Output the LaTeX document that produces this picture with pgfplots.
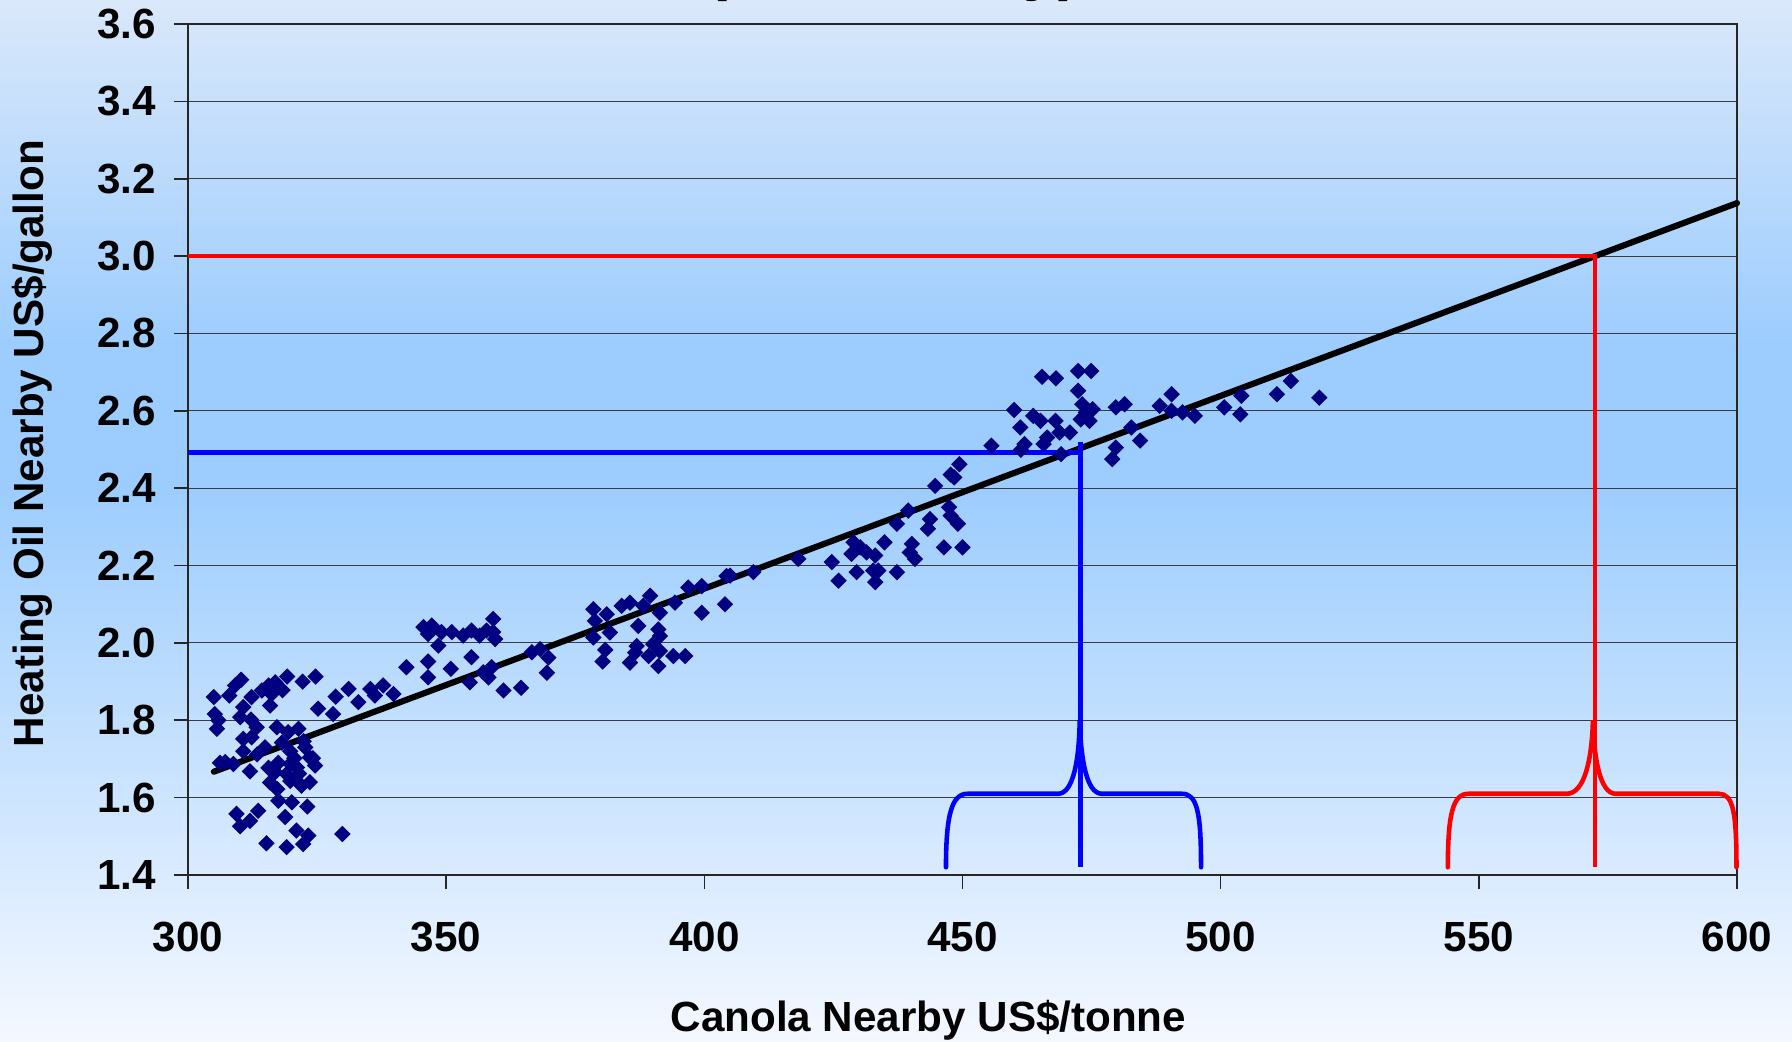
\documentclass[border=0pt]{standalone}
\usepackage{pgfplots}
\pgfplotsset{compat=1.18}
\usepackage{fontspec}
\setmainfont{Liberation Sans}
\definecolor{bgbot}{HTML}{F4F8FF}
\definecolor{bgmid}{HTML}{9DCDFE}
\definecolor{bgtop}{HTML}{DAE8FA}
\definecolor{navy}{HTML}{000080}
\definecolor{gridc}{HTML}{3C3C3C}
\begin{document}
\begin{tikzpicture}
\path[use as bounding box] (0,0) rectangle (179.2mm,104.1mm);
\shade[bottom color=bgbot, top color=bgmid] (0,0) rectangle (179.2mm,55mm);
\shade[bottom color=bgmid, top color=bgtop] (0,70mm) rectangle (179.2mm,104.1mm);
\fill[bgmid] (0,54.9mm) rectangle (179.2mm,70.1mm);
\node[anchor=base, font=\bfseries\fontsize{18}{20}\selectfont, inner sep=0pt] at (89.3mm,105.25mm) {\makebox[37.4mm][l]{(\hfill Weekly)}};
\begin{axis}[
  at={(18.8mm,16.6mm)}, anchor=south west, scale only axis,
  width=154.9mm, height=85.1mm,
  xmin=300, xmax=600, ymin=1.4, ymax=3.6,
  xtick={300,350,400,450,500,550,600},
  ytick={1.4,1.6,1.8,2.0,2.2,2.4,2.6,2.8,3.0,3.2,3.4,3.6},
  ymajorgrids, grid style={line width=0.3pt, color=gridc},
  axis line style={line width=0.5pt, color=black!85},
  tick pos=left, tick align=outside, major tick length=1.4mm,
  tick style={line width=0.45pt, color=black!85},
  /pgf/number format/assume math mode=true,
  tick label style={font=\bfseries\fontsize{12}{14}\selectfont},
  yticklabel style={xshift=-0.57mm, /pgf/number format/.cd, fixed, fixed zerofill, precision=1},
  xticklabel style={yshift=-2.06mm, /pgf/number format/.cd, fixed, precision=0},
  label style={font=\bfseries\fontsize{12}{14}\selectfont},
  xlabel={Canola Nearby US\$/tonne},
  ylabel={Heating Oil Nearby US\$/gallon},
  xlabel style={at={(axis description cs:0.478,-0.1711)}, anchor=center},
  ylabel style={at={(axis description cs:-0.1007,0.507)}, anchor=center},
  clip=false,
]
\addplot[only marks, mark=square*, mark size=1.45pt, mark options={rotate=45, fill=navy, draw=navy}] table {
x y
310.3 1.905
309.1 1.890
308.0 1.864
305.0 1.860
305.2 1.816
305.9 1.800
305.6 1.778
310.1 1.808
310.7 1.834
312.3 1.860
314.3 1.877
315.6 1.890
316.9 1.898
316.2 1.868
315.9 1.838
319.2 1.913
322.2 1.900
324.7 1.913
325.2 1.830
328.6 1.861
328.1 1.816
313.3 1.782
310.7 1.752
312.3 1.756
310.7 1.720
306.2 1.690
308.8 1.687
312.0 1.668
314.9 1.730
317.2 1.782
319.4 1.769
321.4 1.778
322.7 1.730
324.6 1.683
323.6 1.704
319.8 1.720
315.6 1.677
316.9 1.666
317.5 1.690
319.8 1.687
321.1 1.678
319.1 1.661
315.9 1.639
319.8 1.643
322.0 1.631
323.6 1.640
317.5 1.592
320.1 1.588
323.1 1.577
309.4 1.558
313.6 1.566
312.0 1.540
310.1 1.526
318.8 1.550
321.0 1.515
323.3 1.502
322.3 1.480
315.2 1.482
319.1 1.472
329.9 1.506
307.2 1.692
313.4 1.712
318.2 1.742
320.6 1.702
321.5 1.662
317.3 1.622
322.4 1.746
312.2 1.802
318.3 1.878
324.2 1.702
331.1 1.881
333.0 1.847
335.3 1.881
336.2 1.864
337.8 1.890
339.8 1.868
342.3 1.937
346.5 1.952
346.5 1.911
345.6 2.041
347.2 2.045
346.5 2.023
349.1 2.028
351.1 2.028
348.5 1.993
353.3 2.019
354.9 2.032
356.5 2.019
357.8 2.032
359.1 2.062
359.1 2.028
359.5 2.010
350.9 1.933
354.9 1.963
354.6 1.898
357.2 1.924
358.8 1.937
358.2 1.911
361.1 1.877
364.5 1.884
366.6 1.976
368.2 1.984
369.8 1.962
369.5 1.923
378.5 2.087
378.8 2.057
381.1 2.074
381.7 2.027
378.5 2.014
380.8 1.982
380.3 1.952
384.0 2.096
385.6 2.104
389.5 2.122
388.2 2.096
391.4 2.078
387.2 2.044
391.1 2.035
391.4 2.018
386.9 1.992
386.6 1.975
390.1 1.997
391.4 1.979
389.2 1.966
385.6 1.949
391.1 1.940
394.0 1.966
396.3 1.966
394.3 2.104
396.9 2.143
399.5 2.147
399.5 2.078
404.0 2.100
404.3 2.173
405.0 2.174
409.5 2.183
418.2 2.217
424.7 2.209
426.0 2.161
428.9 2.260
428.5 2.230
430.2 2.247
431.4 2.234
433.1 2.226
429.5 2.183
432.7 2.187
433.7 2.187
433.1 2.157
437.3 2.183
434.9 2.260
437.3 2.308
439.5 2.342
440.2 2.256
439.8 2.234
440.8 2.217
443.7 2.320
443.3 2.295
446.4 2.247
450.0 2.247
447.4 2.351
447.7 2.329
449.1 2.308
444.7 2.406
447.7 2.435
448.4 2.428
449.4 2.462
455.6 2.510
460.0 2.602
461.2 2.557
465.4 2.688
468.1 2.684
463.7 2.587
465.1 2.574
468.0 2.574
468.8 2.544
470.8 2.544
466.4 2.531
465.7 2.514
462.0 2.514
461.3 2.499
469.1 2.488
472.4 2.703
474.9 2.703
472.4 2.652
473.2 2.617
475.2 2.604
473.9 2.596
472.9 2.578
474.6 2.574
479.7 2.609
481.4 2.617
482.7 2.557
484.4 2.523
479.7 2.505
479.0 2.475
488.2 2.613
490.5 2.643
490.5 2.600
492.6 2.596
495.0 2.587
500.7 2.609
503.8 2.591
504.0 2.639
510.9 2.643
513.6 2.677
519.1 2.634
};
\addplot[black, line width=1.75pt, line cap=round] coordinates {(305,1.667) (600,3.137)};
\addplot[blue, line width=1.3pt] coordinates {(300,2.492) (472.8,2.492)};
\addplot[blue, line width=1.3pt] coordinates {(472.8,2.52) (472.8,1.42)};
\addplot[red, line width=1.3pt] coordinates {(300,3.0) (572.5,3.0) (572.5,1.42)};
\draw[blue, line width=1.3pt, line cap=round]
  (446.8,1.42) .. controls (446.8,1.56) and (448,1.61) .. (451,1.61) -- (468.5,1.61)
  .. controls (471.5,1.61) and (472.6,1.70) .. (472.7,1.80)
  .. controls (472.9,1.70) and (474,1.61) .. (477,1.61) -- (492.5,1.61)
  .. controls (495.5,1.61) and (496.2,1.56) .. (496.2,1.42);
\draw[red, line width=1.3pt, line cap=round]
  (544,1.42) .. controls (544,1.56) and (545,1.61) .. (548,1.61) -- (567,1.61)
  .. controls (570.5,1.61) and (571.9,1.70) .. (572.1,1.80)
  .. controls (572.3,1.70) and (573.5,1.61) .. (576.5,1.61) -- (596.5,1.61)
  .. controls (599.3,1.61) and (599.9,1.56) .. (599.9,1.42);
\end{axis}
\end{tikzpicture}
\end{document}
